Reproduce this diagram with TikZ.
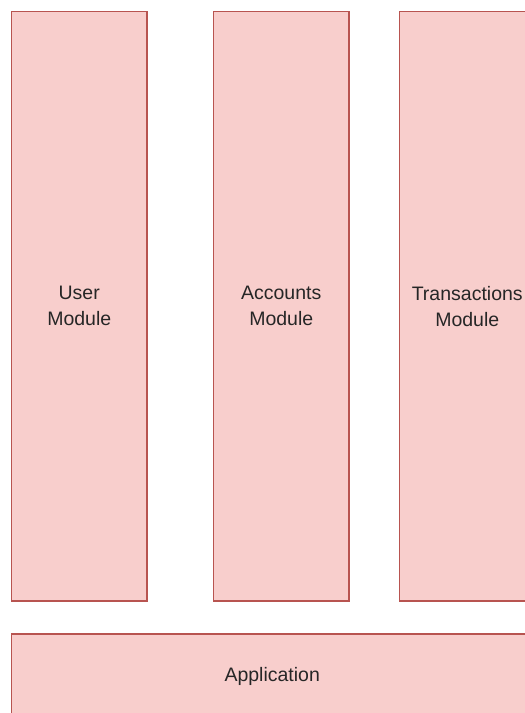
\documentclass[tikz,border=0pt]{standalone}
\usepackage{fontspec}
\setmainfont{Liberation Sans}
\usepackage{tikz}
\usetikzlibrary{positioning}

\begin{document}
\begin{tikzpicture}[
		x=1pt, y=1pt,
		% draw.io style pink boxes
		module/.style={rectangle, draw=modborder, fill=modfill, line width=1.5pt, minimum width=135.5pt, minimum height=589.5pt, inner sep=0pt, align=center, text=black!85, font=\fontsize{19.5}{26}\selectfont},
		appbox/.style={module, minimum width=521.5pt, minimum height=84pt}
	]
	\definecolor{modfill}{HTML}{F8CECC}
	\definecolor{modborder}{HTML}{B85450}
	
	\useasboundingbox (0,0) rectangle (525,713);
	\clip (0,0) rectangle (525,713);
	
	\node[module] (user) at (79.25,406.75) {User\\Module};
	\node[module] (accounts) at (281.25,406.75) {Accounts\\Module};
	\node[module] (transactions) at (467.25,406.75) {Transactions\\Module};
	
	\node[appbox] (application) at (272.25,37) {Application};
	
\end{tikzpicture}
\end{document}
